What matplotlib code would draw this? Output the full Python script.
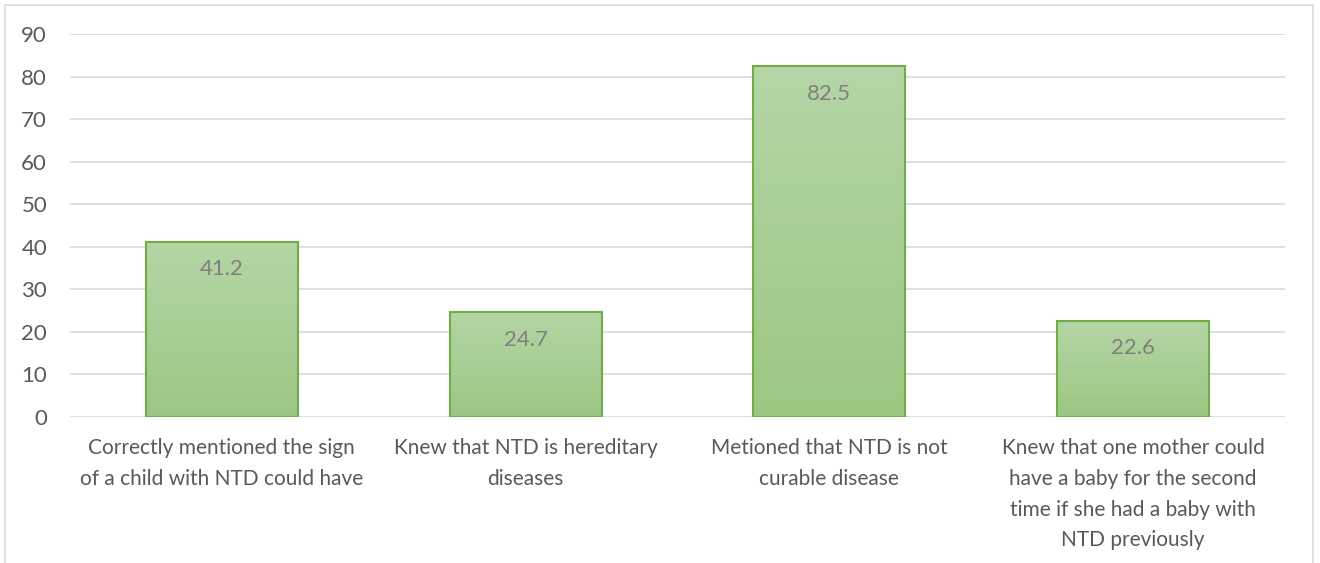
import numpy as np
import matplotlib
matplotlib.use("Agg")
from matplotlib import pyplot as plt
from matplotlib.patches import Rectangle

categories = [
    "Correctly mentioned the sign\nof a child with NTD could have",
    "Knew that NTD is hereditary\ndiseases",
    "Metioned that NTD is not\ncurable disease",
    "Knew that one mother could\nhave a baby for the second\ntime if she had a baby with\nNTD previously",
]
values = [41.2, 24.7, 82.5, 22.6]
yticks = [0, 10, 20, 30, 40, 50, 60, 70, 80, 90]

plt.rcParams["font.family"] = ["Lato", "DejaVu Sans"]

fig = plt.figure(figsize=(13.2, 5.63), dpi=100)
ax = fig.add_axes([70 / 1320, 1 - 417 / 563, 1215 / 1320, 383 / 563])

# light outer frame like the office chart border
fig.patches.append(Rectangle((5 / 1320, -0.01), 1308 / 1320, 1 - 5 / 563 + 0.01,
                             transform=fig.transFigure, fill=False,
                             edgecolor="#d9d9d9", linewidth=1.2))

x = np.arange(len(values))
bars = ax.bar(x, values, width=0.5, color="none", edgecolor="#70ad47",
              linewidth=1.5, zorder=3)

# vertical gradient inside each bar
grad = np.linspace(0, 1, 256).reshape(-1, 1)
cmap = matplotlib.colors.LinearSegmentedColormap.from_list(
    "g", ["#9cc783", "#b5d5a6"])
for b in bars:
    x0, w, h = b.get_x(), b.get_width(), b.get_height()
    im = ax.imshow(grad, extent=[x0, x0 + w, 0, h], origin="lower",
                   cmap=cmap, aspect="auto", zorder=2)
    im.set_clip_path(b)
    ax.text(x0 + w / 2, h - 6.5, f"{h:.1f}", ha="center", va="center",
            fontsize=16, color="#7f7f7f", zorder=4)

ax.set_xlim(-0.5, len(values) - 0.5)
ax.set_ylim(0, 90)
ax.set_yticks(yticks)
ax.set_xticks(x)
ax.set_xticklabels(categories, fontsize=15, color="#595959", linespacing=1.68)
ax.tick_params(axis="y", labelsize=16, labelcolor="#595959", length=0, pad=16.5)
ax.tick_params(axis="x", length=0, pad=15)
ax.grid(axis="y", color="#d9d9d9", linewidth=1.2, zorder=0)
ax.set_axisbelow(True)
for s in ax.spines.values():
    s.set_visible(False)

fig.savefig("out.png", dpi=100)
